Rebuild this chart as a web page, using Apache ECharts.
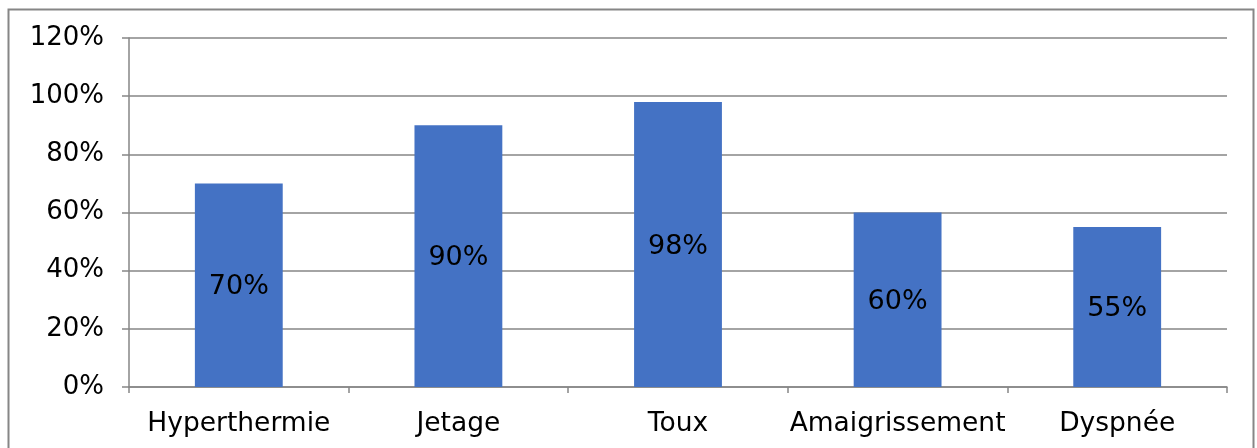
<!DOCTYPE html>
<html>
<head>
<meta charset="utf-8">
<script src="https://cdn.jsdelivr.net/npm/echarts@6/dist/echarts.min.js"></script>
<style>
  html, body { margin: 0; padding: 0; background: #fff; }
  #chart { width: 1257px; height: 448px; }
</style>
</head>
<body>
<div id="chart"></div>
<script>
// Symptom frequencies (percent)
const categories = ['Hyperthermie', 'Jetage', 'Toux', 'Amaigrissement', 'Dyspnée'];
const values = [70, 90, 98, 60, 55];
const yTicks = [0, 20, 40, 60, 80, 100, 120];

const FONT = 'DejaVu Sans, Verdana, sans-serif';
const GRID = '#868686';

const chart = echarts.init(document.getElementById('chart'), null, { renderer: 'canvas' });
chart.setOption({
  animation: false,
  backgroundColor: '#fff',
  graphic: [{
    type: 'rect',
    shape: { x: 8.5, y: 9.5, width: 1245, height: 460 },
    style: { fill: 'none', stroke: GRID, lineWidth: 2 },
    silent: true
  }],
  grid: { left: 129, right: 30, top: 38, bottom: 61, containLabel: false },
  xAxis: {
    type: 'category',
    data: categories,
    axisLine: { show: true, lineStyle: { color: GRID, width: 1.5 } },
    axisTick: { show: true, alignWithLabel: false, length: 6, lineStyle: { color: GRID, width: 1.5 } },
    axisLabel: { color: '#000', fontFamily: FONT, fontSize: 26.5, margin: 24, interval: 0, hideOverlap: false }
  },
  yAxis: {
    type: 'value',
    min: yTicks[0],
    max: yTicks[yTicks.length - 1],
    interval: 20,
    axisLine: { show: true, lineStyle: { color: GRID, width: 1.5 } },
    axisTick: { show: true, length: 7, lineStyle: { color: GRID, width: 1.5 } },
    splitLine: { show: true, lineStyle: { color: GRID, width: 1.5 } },
    axisLabel: { color: '#000', fontFamily: FONT, fontSize: 26, margin: 25, formatter: v => v + '%' }
  },
  series: [{
    type: 'bar',
    data: values,
    barWidth: '40%',
    itemStyle: { color: '#4472C4' },
    label: {
      show: true,
      position: 'inside',
      offset: [0, 2],
      color: '#000',
      fontFamily: FONT,
      fontSize: 27,
      formatter: p => p.value + '%'
    }
  }]
});
</script>
</body>
</html>
